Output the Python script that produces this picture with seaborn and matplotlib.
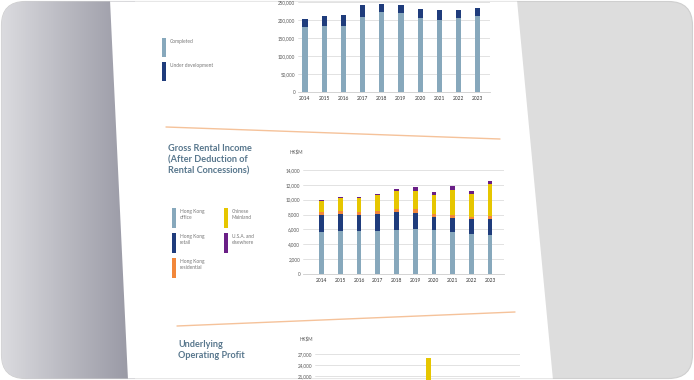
import numpy as np
import matplotlib
matplotlib.use("Agg")
import matplotlib.pyplot as plt
from matplotlib.patches import FancyBboxPatch, Polygon, Rectangle
from matplotlib.colors import LinearSegmentedColormap
import seaborn as sns

sns.set_style("white")
plt.rcParams["font.family"] = ["Lato", "DejaVu Sans"]

years = [str(y) for y in range(2014, 2024)]

# investment property portfolio (sq ft, '000)
completed = [180000, 182000, 184000, 207000, 221000, 220000, 205000, 199000, 206000, 212000]
under_dev = [23000, 28000, 30000, 35000, 23000, 23000, 25000, 30000, 22000, 22000]
area_ticks = [0, 50000, 100000, 150000, 200000, 250000]

# gross rental income, HK$M
hk_office = [5620, 5730, 5760, 5790, 5960, 6020, 5900, 5630, 5440, 5240]
hk_retail = [2330, 2370, 2240, 2280, 2390, 2250, 1800, 1940, 1900, 2150]
hk_resid = [390, 320, 360, 410, 420, 420, 430, 350, 310, 450]
mainland = [1550, 1860, 1920, 2120, 2350, 2500, 2530, 3390, 3100, 4260]
usa_other = [120, 80, 80, 200, 380, 470, 340, 480, 400, 400]
rent_ticks = [0, 2000, 4000, 6000, 8000, 10000, 12000, 14000]
rent_legend = [["Hong Kong\noffice", "Hong Kong\nretail", "Hong Kong\nresidential"],
               ["Chinese\nMainland", "U.S.A. and\nelsewhere"]]

# underlying operating profit, HK$M (only the top of the chart is on the page)
profit_base = [7800, 8100, 8300, 8700, 9100, 9300, 8900, 8800, 8600, 8400]
profit_gain = [300, 400, 600, 1200, 2500, 16600, 900, 700, 500, 300]
profit_ticks = [0, 3000, 6000, 9000, 12000, 15000, 18000, 21000, 24000, 27000]

LIGHT = "#87a8bc"
DARK = "#1f3c7c"
ORANGE = "#f2873a"
YELLOW = "#e6c600"
PURPLE = "#6a1f86"
TITLE = "#58778d"
GRID = "#dddddd"
W, H = 694, 380

fig = plt.figure(figsize=(6.94, 3.80), dpi=100)
fig.patch.set_facecolor("white")

# background: grey desk, shaded strip on the left, white page
bg = fig.add_axes([0, 0, 1, 1], zorder=0)
bg.set_xlim(0, W)
bg.set_ylim(H, 0)
bg.axis("off")
frame = FancyBboxPatch((1.5, 1.5), W - 3, H - 3, boxstyle="round,pad=0,rounding_size=24",
                       facecolor="#dddddd", edgecolor="#cfcfcf", lw=0.8)
bg.add_patch(frame)
cmap = LinearSegmentedColormap.from_list("shade", ["#dcdce0", "#b8b8c0", "#9797a3"])
grad = bg.imshow(np.linspace(0, 1, 256)[None, :], extent=(0, 135, H, 0), cmap=cmap,
                 aspect="auto", zorder=1)
grad.set_clip_path(frame)
page = Polygon([(110, 0), (128, H), (553, H), (517, 0)], closed=True,
               facecolor="white", edgecolor="none", zorder=2)
bg.add_patch(page)
page.set_clip_path(frame)

# orange separators
bg.plot([166, 500], [127, 139], color="#f5c29a", lw=1.0, zorder=3)
bg.plot([177, 515], [326, 312], color="#f5c29a", lw=1.0, zorder=3)


def px_axes(x0, y0, x1, y1):
    return fig.add_axes([x0 / W, 1 - y1 / H, (x1 - x0) / W, (y1 - y0) / H], zorder=5)


def stacked(ax, layers, colors, width):
    total = np.zeros(len(years))
    cums = []
    for vals in layers:
        total = total + np.array(vals)
        cums.append(total.copy())
    for cum, c in reversed(list(zip(cums, colors))):
        sns.barplot(x=years, y=cum, color=c, width=width, saturation=1,
                    linewidth=0, ax=ax)


def style(ax, ticks, xlim, years_on=True, first_label=0):
    ax.set_facecolor("none")
    ax.set_xlim(*xlim)
    ax.set_ylim(ticks[0], ticks[-1])
    ax.set_yticks(ticks)
    ax.set_yticklabels([f"{t:,}" if i >= first_label else "" for i, t in enumerate(ticks)])
    ax.grid(axis="y", color=GRID, lw=0.6)
    ax.set_axisbelow(True)
    ax.set_xlabel("")
    ax.set_ylabel("")
    ax.tick_params(axis="y", length=0, pad=2, labelsize=3.3, labelcolor="#555555")
    ax.tick_params(axis="x", length=0, pad=3, labelsize=3.5, labelcolor="#333333")
    if not years_on:
        ax.set_xticklabels([])
    sns.despine(ax=ax, left=True, top=True, right=True, bottom=False)
    ax.spines["bottom"].set_color("#cccccc")
    ax.spines["bottom"].set_linewidth(0.6)


def swatch(x, y, color, label, h=19):
    bg.add_patch(Rectangle((x, y), 3.6, h, facecolor=color, edgecolor="none", zorder=4))
    bg.text(x + 8, y + 1, label, fontsize=3.5, color="#777777", va="top", ha="left",
            linespacing=1.3, zorder=4)


# top chart: portfolio area
ax1 = px_axes(298, 2, 490, 92)
stacked(ax1, [completed, under_dev], [LIGHT, DARK], 0.27)
style(ax1, area_ticks, (-0.36, 9.64))
swatch(162, 38, LIGHT, "Completed")
swatch(162, 62, DARK, "Under development")

# middle chart: gross rental income
bg.text(168, 144, "Gross Rental Income\n(After Deduction of\nRental Concessions)",
        fontsize=6.6, fontweight="bold", color=TITLE, va="top", ha="left",
        linespacing=1.3, zorder=4)
ax2 = px_axes(303, 170, 504, 274)
stacked(ax2, [hk_office, hk_retail, hk_resid, mainland, usa_other],
        [LIGHT, DARK, ORANGE, YELLOW, PURPLE], 0.25)
style(ax2, rent_ticks, (-1.0, 9.75))
bg.text(290, 152, "HK$M", fontsize=3.3, color="#555555", va="center", zorder=4)
cols = [[LIGHT, DARK, ORANGE], [YELLOW, PURPLE]]
for cx, labels, colors in zip([172, 224], rent_legend, cols):
    for i, (lab, c) in enumerate(zip(labels, colors)):
        swatch(cx, 208 + i * 25, c, lab, h=20)

# bottom chart: underlying operating profit
bg.text(178, 340, "Underlying\nOperating Profit", fontsize=6.6, fontweight="bold",
        color=TITLE, va="top", ha="left", linespacing=1.3, zorder=4)
ax3 = px_axes(315, 354, 520, 453)
stacked(ax3, [profit_base, profit_gain], [LIGHT, YELLOW], 0.25)
style(ax3, profit_ticks, (-0.82, 9.7), years_on=False, first_label=7)
bg.text(300, 339, "HK$M", fontsize=3.3, color="#555555", va="center", zorder=4)

fig.savefig("out.png", dpi=100)
